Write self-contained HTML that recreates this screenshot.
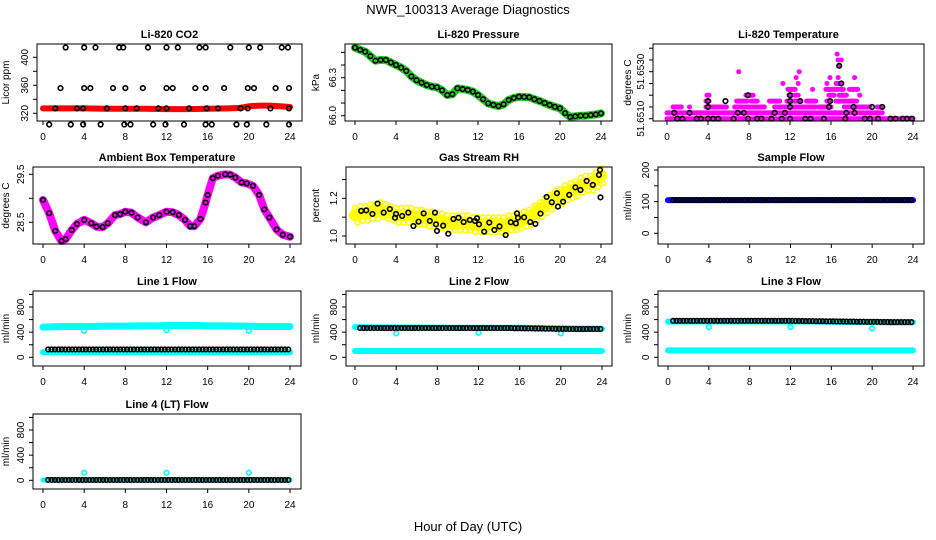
<!DOCTYPE html>
<html><head><meta charset="utf-8"><style>
body{margin:0;background:#fff}
svg{display:block;font-family:"Liberation Sans",sans-serif}
</style></head><body>
<svg id="chart" width="936" height="540" viewBox="0 0 936 540">
<text x="468" y="14" font-size="13" text-anchor="middle">NWR_100313  Average Diagnostics</text>
<text x="468" y="531" font-size="13" text-anchor="middle">Hour of Day (UTC)</text>
</svg>
<script>
// ---------- data ----------
const xTicks=[0,4,8,12,16,20,24];
// CO2
const co2RedHours=[0,2,4,6,8,10,12,14,16,18,19,20,21,22,23,24];
const co2RedVals=[327,327,327,326.5,326.5,326.5,326,326,326.5,327,327.5,330,331,331,330,329];
const co2Levels=[414,356,327,304];
const co2LevelHours=[
 [2.2,4,5.1,7.4,7.8,10.2,12,13.1,15.2,15.8,18.2,20,21.1,23.2,23.8],
 [1.7,4,4.6,6.8,8,9.7,12,12.6,14.8,15.8,17.6,19.9,20.5,22.6,23.9],
 [1.2,3.3,3.9,6.2,8,9.1,11.2,12,14.2,15.9,17,19.2,19.9,22.1,23.9],
 [0.6,2.7,3.9,5.6,7.9,8.5,10.7,11.9,13.7,15.8,16.4,18.8,19.8,21.7,23.9]];
// Pressure
const presHours=[0,0.5,1,1.5,2,2.5,3,3.5,4,4.5,5,5.5,6,6.5,7,7.5,8,8.5,9,9.5,10,10.5,11,11.5,12,12.5,13,13.5,14,14.5,15,15.5,16,16.5,17,17.5,18,18.5,19,19.5,20,20.5,21,21.5,22,22.5,23,23.5,24];
const presVals=[66.537,66.52,66.505,66.47,66.434,66.44,66.44,66.42,66.40,66.38,66.353,66.31,66.28,66.26,66.242,66.23,66.224,66.2,66.163,66.17,66.216,66.21,66.203,66.19,66.163,66.13,66.097,66.085,66.076,66.09,66.124,66.14,66.15,66.148,66.145,66.13,66.116,66.1,66.084,66.07,66.058,66.02,65.99,65.995,66.0,66.0,66.005,66.01,66.018];
// Li-820 temperature (levels in 0.00025 steps above 51.6510)
const tempSegLevel=[0,1,1,2,2,2,2,2,2,2,2,2,3,3,3,3,3,3,3,3,4,4,4,4,4,4,4,5,5,5,5,6,6,6,6,7,7,7,7,8,8,9,10,10,11];
const tempSegStart=[0,0,17.6,0.6,2.2,3.8,6.6,10.5,12,14.8,17.3,20.5,3.8,6.8,8.2,10,11.7,13.6,15.6,16.5,3.9,7.7,11.9,12.5,15.8,16.8,18.8,11.8,14.2,15.5,17.8,11.3,12.8,15.6,16.5,12.6,15.9,16.7,18.3,7,12.9,16.8,16.7,17,16.6];
const tempSegEnd=[24,17.4,21,1.4,2.2,5.8,9.5,12,14.5,16,19.8,21,4.1,7.8,8.8,11,13,14.5,16,18.5,4.1,8.4,12.2,12.8,16.3,17.5,18.8,12.5,14.2,17.2,18.6,11.3,12.8,15.6,17,12.6,15.9,16.7,18.3,7,12.9,16.8,16.7,17,16.6];
const tempBlackLevel=[0,0,0,0,0,0,0,0,0,0,0,0,0,0,0,0,0,0,0,0,0,0,0,0,0,0,1,1,1,1,1,1,1,1,2,2,2,2,2,2,3,3,3,3,3,4,4,6,9];
const tempBlackHours=[1,1.5,2.9,3.3,4,4.5,5,6.5,7.9,8.8,9.2,10.2,11.2,12,13.5,14,15.3,17.4,19.3,19.8,20.6,21.8,22.3,23,23.4,23.9,0.7,2.2,6.9,7.5,10.5,11.5,17.5,18.3,4,12,15.8,18.2,20,21,4,5.7,12,13,15.9,7.9,12,17,16.8];
// Ambient box temperature
const ambHours=[0,0.6,1.2,1.8,2.2,2.8,3.3,4,4.7,5.2,5.8,6.3,7,7.5,8,8.6,9.2,10,10.7,11.3,12,12.6,13.2,13.8,14.3,14.7,15.3,15.8,16,16.5,17,17.7,18.2,18.7,19.3,19.8,20.4,21,21.5,22,22.7,23.3,24];
const ambVals=[28.965,28.69,28.32,28.11,28.15,28.34,28.465,28.55,28.48,28.41,28.40,28.48,28.65,28.67,28.72,28.70,28.60,28.5,28.6,28.65,28.72,28.71,28.65,28.55,28.42,28.42,28.57,28.91,29.07,29.42,29.47,29.5,29.49,29.43,29.33,29.31,29.26,29.07,28.77,28.6,28.35,28.24,28.2];
// Gas stream RH
const rhBlackHours=[0.6,1.1,1.7,2.2,2.8,3.4,3.9,4.0,4.6,5.2,5.7,6.2,6.7,7.3,7.8,7.9,8.0,8.6,9.1,9.6,10.1,10.6,11.2,11.7,11.9,12.1,12.6,13.1,13.6,14.1,14.7,15.2,15.7,15.8,15.9,16.5,17.1,17.6,18.1,18.7,19.2,19.7,19.8,20.3,20.9,21.5,22.0,22.6,23.2,23.8,23.9,23.95];
const rhBlackVals=[1.133,1.136,1.117,1.172,1.124,1.143,1.097,1.117,1.106,1.124,1.053,1.076,1.12,1.080,1.124,1.062,1.027,1.055,1.012,1.090,1.097,1.074,1.085,1.080,1.094,1.062,1.023,1.071,1.032,1.051,1.005,1.073,1.067,1.120,1.097,1.099,1.074,1.064,1.119,1.207,1.179,1.227,1.156,1.182,1.218,1.258,1.244,1.292,1.271,1.324,1.350,1.205];
const rhYellowHours=[0,0.5,1,1.5,2,2.5,3,3.5,4,4.5,5,5.5,6,6.5,7,7.5,8,8.5,9,9.5,10,10.5,11,11.5,12,12.5,13,13.5,14,14.5,15,15.5,16,16.5,17,17.5,18,18.5,19,19.5,20,20.5,21,21.5,22,22.5,23,23.5,24];
const rhYellowVals=[1.11,1.12,1.12,1.13,1.13,1.14,1.13,1.12,1.11,1.11,1.11,1.11,1.10,1.10,1.09,1.09,1.08,1.08,1.07,1.07,1.07,1.07,1.07,1.06,1.06,1.06,1.06,1.06,1.06,1.06,1.07,1.07,1.08,1.09,1.10,1.12,1.14,1.16,1.18,1.20,1.21,1.23,1.24,1.25,1.27,1.28,1.28,1.30,1.32];
// Flows (hourly values 0..24)
const sampleBlue=[105,105,105,105,105,105,105,105,105,105,105,105,105,105,105,105,105,105,105,105,105,105,105,105,105];
const sampleBlack=sampleBlue;
const l1CyanHi=[480,485,490,490,490,490,495,495,495,500,500,500,505,505,505,505,500,500,500,495,495,490,490,490,490];
const l1CyanLo=[80,80,80,80,80,80,80,80,80,80,80,80,80,80,80,80,80,80,80,80,80,80,80,80,80];
const l1Black=[125,125,125,125,125,125,125,125,125,125,125,125,125,125,125,125,125,125,125,125,125,125,125,125,125];
const l2CyanHi=[480,478,476,475,475,474,473,472,471,470,470,470,470,470,470,470,470,468,465,462,460,458,455,455,455];
const l2CyanLo=[100,100,100,100,100,100,100,100,100,100,100,100,100,100,100,100,100,100,100,100,100,100,100,100,100];
const l2Black=[465,465,465,465,465,465,465,465,465,465,465,465,465,465,465,465,462,460,458,455,452,450,450,450,450];
const l3CyanHi=[565,570,570,570,570,570,570,570,570,570,570,570,570,570,570,568,566,564,562,560,560,558,556,555,555];
const l3CyanLo=[110,110,110,110,110,110,110,110,110,110,110,110,110,110,110,110,110,110,110,110,110,110,110,110,110];
const l3Black=[580,580,580,580,580,580,580,580,580,580,580,580,580,578,576,574,572,570,568,566,564,562,560,560,560];
const l4Cyan=[5,5,5,5,5,5,5,5,5,5,5,5,5,5,5,5,5,5,5,5,5,5,5,5,5];
const l4Black=[5,5,5,5,5,5,5,5,5,5,5,5,5,5,5,5,5,5,5,5,5,5,5,5,5];
const dipHours=[4,12,20];
const l1Dip=[420,430,420];
const l2Dip=[380,390,380];
const l3Dip=[480,480,460];
const l4Dip=[120,120,120];

// ---------- drawing ----------
const svg=document.getElementById('chart');
const NS='http://www.w3.org/2000/svg';
function mk(tag,attrs,parent){const e=document.createElementNS(NS,tag);for(const k in attrs)e.setAttribute(k,attrs[k]);(parent||svg).appendChild(e);return e;}

function panel(o){
  const g=mk('g',{});
  
  
  const [L,R,T,B]=o.box;
  const sx=t=>o.xr[0]+(o.xr[1]-o.xr[0])*t/24;
  const sy=v=>o.ym[1]+(v-o.ym[0])*(o.ym[3]-o.ym[1])/(o.ym[2]-o.ym[0]);
  const plot=mk('g',{},g);
  
  
  const axes=mk('g',{},g);
  const fr=mk('rect',{x:L,y:T,width:R-L,height:B-T,fill:'none',stroke:'#000','stroke-width':1},axes);
  
  
  xTicks.forEach(t=>{
    mk('line',{x1:sx(t),x2:sx(t),y1:B,y2:B+4,stroke:'#000'},axes);
    const tx=mk('text',{x:sx(t),y:B+19,'font-size':10,'text-anchor':'middle'},axes);
    tx.textContent=t;
    
    
  });
  o.yTicks.forEach(v=>{mk('line',{x1:L-4,x2:L,y1:sy(v),y2:sy(v),stroke:'#000'},axes);});
  o.yLabels.forEach(v=>{
    const y=sy(v),x=L-9;
    const tx=mk('text',{x:x,y:y,'font-size':10,'text-anchor':'middle',transform:`rotate(-90 ${x} ${y})`},axes);
    tx.textContent=o.fmt?o.fmt(v):v;
    
    
  });
  const tt=mk('text',{x:(L+R)/2,y:T-6,'font-size':11,'font-weight':'bold','text-anchor':'middle'},g);
  tt.textContent=o.title;
  
  
  const yl=mk('text',{x:o.ylx,y:(T+B)/2,'font-size':10,'text-anchor':'middle',transform:`rotate(-90 ${o.ylx} ${(T+B)/2})`},g);
  yl.textContent=o.ylab;
  
  
  return {sx,sy,plot};
}
function circ(p,x,y,col,r,sw){const c=mk('circle',{cx:x,cy:y,r:r||2.3,fill:'none',stroke:col,'stroke-width':sw||1.6},p);return c;}
function band(p,pts,col,w){const e=mk('polyline',{points:pts.map(q=>q.join(',')).join(' '),fill:'none',stroke:col,'stroke-width':w,'stroke-linejoin':'round','stroke-linecap':'round'},p);return e;}
function hourly(arr,P){return arr.map((v,i)=>[P.sx(i),P.sy(v)]);}
function denseCircles(arr,P,col,start,step){for(let t=start;t<=24.001;t+=step){const i=Math.min(24,Math.round(t));circ(P.plot,P.sx(t),P.sy(arr[i]),col);}}

// Row 1
let P=panel({name:'co2-panel',box:[37,302,44,121],xr:[43,290],ym:[320,113.3,400,57.3],yTicks:[320,340,360,380,400],yLabels:[320,360,400],title:'Li-820 CO2',ylab:'Licor ppm',ylx:9});
band(P.plot,co2RedHours.map((t,i)=>[P.sx(t),P.sy(co2RedVals[i])]),'#ff0000',6);
co2Levels.forEach((v,k)=>co2LevelHours[k].forEach(t=>circ(P.plot,P.sx(t),P.sy(v),'#000')));

P=panel({name:'pressure-panel',box:[345,612,44,121],xr:[355,601],ym:[66.0,115.7,66.3,77.7],yTicks:[66.0,66.1,66.2,66.3,66.4,66.5],yLabels:[66.0,66.3],fmt:v=>v.toFixed(1),title:'Li-820 Pressure',ylab:'kPa',ylx:319});
band(P.plot,presHours.map((t,i)=>[P.sx(t),P.sy(presVals[i])]),'#22cc22',8);
presHours.forEach((t,i)=>circ(P.plot,P.sx(t),P.sy(presVals[i]),'#000'));

P=panel({name:'li820-temperature-panel',box:[653,924,44,121],xr:[667,913],ym:[51.651,118.7,51.653,71.7],yTicks:[51.651,51.6515,51.652,51.6525,51.653,51.6535,51.654],yLabels:[51.651,51.653],fmt:v=>v.toFixed(4),title:'Li-820 Temperature',ylab:'degrees C',ylx:631});
tempSegLevel.forEach((lv,i)=>{const v=51.651+lv*0.00025;const e=mk('line',{x1:P.sx(tempSegStart[i]),x2:P.sx(tempSegEnd[i]),y1:P.sy(v),y2:P.sy(v),stroke:'#ff00ff','stroke-width':5,'stroke-linecap':'round'},P.plot);});
tempBlackLevel.forEach((lv,i)=>circ(P.plot,P.sx(tempBlackHours[i]),P.sy(51.651+lv*0.00025),'#000'));

// Row 2
P=panel({name:'ambient-box-temperature-panel',box:[33,301,167,244],xr:[43,290],ym:[28.5,222.3,29.5,174.3],yTicks:[28.5,29.0,29.5],yLabels:[28.5,29.5],fmt:v=>v.toFixed(1),title:'Ambient Box Temperature',ylab:'degrees C',ylx:9});
band(P.plot,ambHours.map((t,i)=>[P.sx(t),P.sy(ambVals[i])]),'#ff00ff',8);
ambHours.forEach((t,i)=>circ(P.plot,P.sx(t),P.sy(ambVals[i]),'#000'));

P=panel({name:'gas-stream-rh-panel',box:[346,612,167,244],xr:[355,601],ym:[1.0,236,1.2,198.3],yTicks:[1.0,1.1,1.2,1.3],yLabels:[1.0,1.2],fmt:v=>v.toFixed(1),title:'Gas Stream RH',ylab:'percent',ylx:319});
band(P.plot,rhYellowHours.map((t,i)=>[P.sx(t),P.sy(rhYellowVals[i])]),'#ffff00',12);
rhYellowHours.forEach((t,i)=>{circ(P.plot,P.sx(t),P.sy(rhYellowVals[i]+0.04),'#ffff00');circ(P.plot,P.sx(t+0.25),P.sy(rhYellowVals[i]-0.04),'#ffff00');});
rhBlackHours.forEach((t,i)=>circ(P.plot,P.sx(t),P.sy(rhBlackVals[i]),'#000'));

P=panel({name:'sample-flow-panel',box:[658,924,167,244],xr:[668,913],ym:[0,233.3,200,170],yTicks:[0,50,100,150,200],yLabels:[0,100,200],title:'Sample Flow',ylab:'ml/min',ylx:631});
band(P.plot,hourly(sampleBlue,P),'#0000ff',6);
denseCircles(sampleBlack,P,'#000',0.5,1/3);

// Row 3
function flowPanel(name,box,xr,T,B,title,ylx){return panel({name,box:[box[0],box[1],T,B],xr,ym:[0,B-8.7,800,B-59],yTicks:[0,200,400,600,800,1000],yLabels:[0,400,800],title,ylab:'ml/min',ylx});}
P=flowPanel('line1-flow-panel',[33,301],[43,290],291,366,'Line 1 Flow',9);
band(P.plot,hourly(l1CyanHi,P),'#00ffff',7);
band(P.plot,hourly(l1CyanLo,P),'#00ffff',6);
dipHours.forEach((t,i)=>circ(P.plot,P.sx(t),P.sy(l1Dip[i]),'#00ffff'));
denseCircles(l1Black,P,'#000',0.5,1/3);

P=flowPanel('line2-flow-panel',[346,612],[355,602],291,366,'Line 2 Flow',319);
band(P.plot,hourly(l2CyanHi,P),'#00ffff',6);
band(P.plot,hourly(l2CyanLo,P),'#00ffff',6);
dipHours.forEach((t,i)=>circ(P.plot,P.sx(t),P.sy(l2Dip[i]),'#00ffff'));
denseCircles(l2Black,P,'#000',0.5,1/3);

P=flowPanel('line3-flow-panel',[658,924],[668,913],291,366,'Line 3 Flow',631);
band(P.plot,hourly(l3CyanHi,P),'#00ffff',6);
band(P.plot,hourly(l3CyanLo,P),'#00ffff',6);
dipHours.forEach((t,i)=>circ(P.plot,P.sx(t),P.sy(l3Dip[i]),'#00ffff'));
denseCircles(l3Black,P,'#000',0.5,1/3);

// Row 4
P=flowPanel('line4-flow-panel',[33,301],[43,290],414,489,'Line 4 (LT) Flow',9);
band(P.plot,hourly(l4Cyan,P),'#00ffff',5);
dipHours.forEach((t,i)=>circ(P.plot,P.sx(t),P.sy(l4Dip[i]),'#00ffff'));
denseCircles(l4Black,P,'#000',0.5,1/3);
</script>
</body></html>
